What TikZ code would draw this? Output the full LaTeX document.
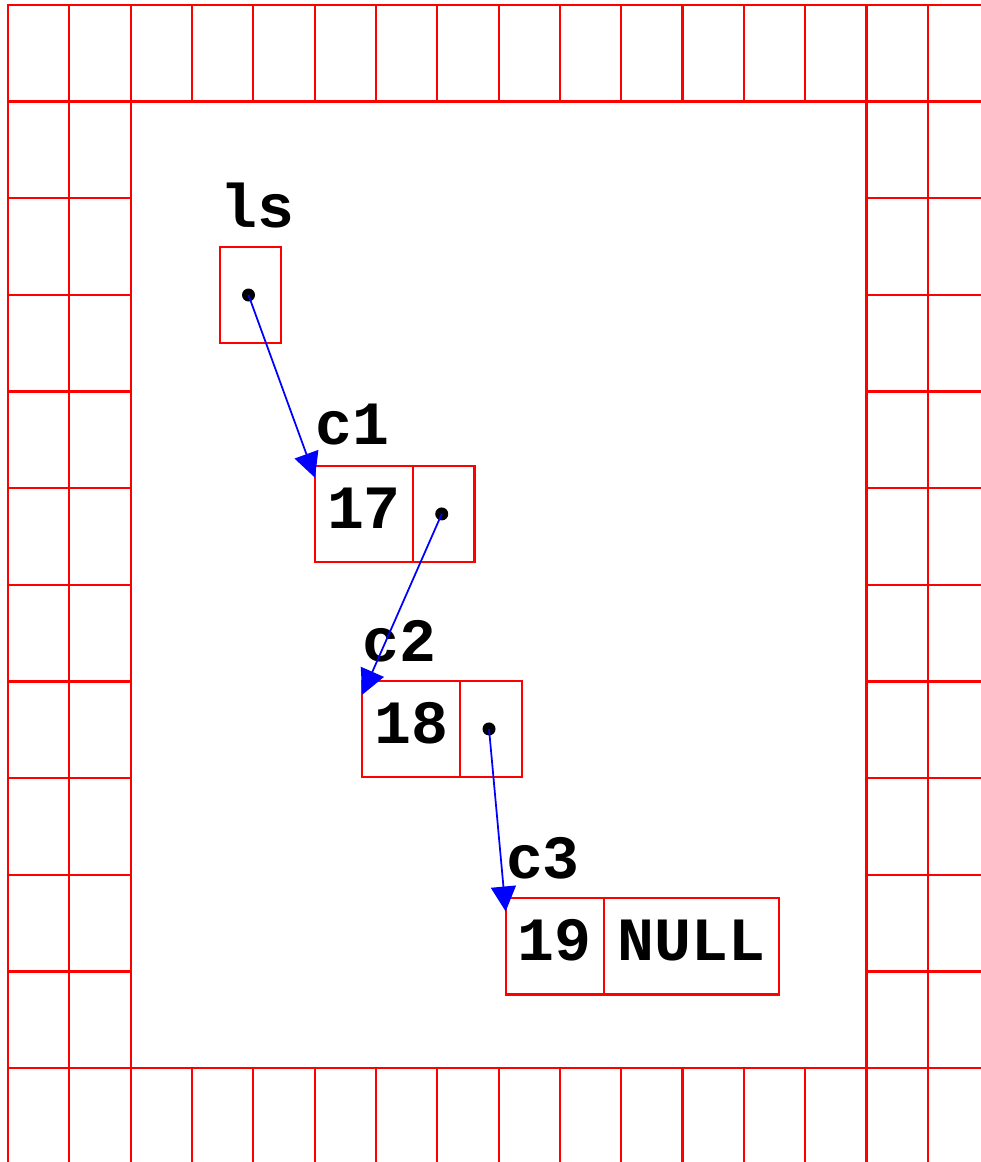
\documentclass[tikz,border=0pt]{standalone}
\usepackage{fontspec}
\setmonofont{Liberation Mono}
\usetikzlibrary{positioning, arrows.meta}

\begin{document}
\begin{tikzpicture}[
    x=0.02cm, y=-0.02cm,
    wall/.style={draw=red, line width=1.3pt, line cap=rect},
    cell/.style={rectangle, draw=red, line width=1.2pt, fill=none, outer sep=0pt, inner sep=0pt,
        minimum height=1.93cm, text centered, text height=0.875cm, text depth=0.285cm, text=black,
        font=\fontsize{35}{40}\selectfont\ttfamily\bfseries},
    value/.style={cell, minimum width=1.96cm},
    pointer/.style={cell, minimum width=1.23cm},
    varname/.style={rectangle, draw=none, fill=none, anchor=base west, inner sep=0pt, text=black,
        font=\fontsize{35}{40}\selectfont\ttfamily\bfseries},
    link/.style={draw=blue, line width=1pt, -{Triangle[length=0.5cm, width=0.5cm]}},
    node distance=0pt
]
\useasboundingbox (0,0) rectangle (980,1162);

% memory grid round the frame
\foreach \j in {0,1,11}
    \draw[wall] (8,{5+96.64*\j}) -- (980,{5+96.64*\j});
\foreach \j in {2,...,10} {
    \draw[wall] (8,{5+96.64*\j}) -- (130.7,{5+96.64*\j});
    \draw[wall] (866.6,{5+96.64*\j}) -- (980,{5+96.64*\j});
}
\foreach \i in {0,1,2,14,15}
    \draw[wall] ({8+61.33*\i},5) -- ({8+61.33*\i},1162);
\foreach \i in {3,...,13} {
    \draw[wall] ({8+61.33*\i},5) -- ({8+61.33*\i},101.6);
    \draw[wall] ({8+61.33*\i},1068) -- ({8+61.33*\i},1162);
}

% list cells
\node (Var00) [pointer, minimum width=1.22cm, minimum height=1.92cm] at (250.5,295) {};
\node (Val01) [value, anchor=north west] at (315,465.7) {17};
\node (Ptr01) [pointer, right=of Val01] {};
\node (Val02) [value, anchor=north west] at (362.3,680.7) {18};
\node (Ptr02) [pointer, right=of Val02] {};
\node (Val03) [value, anchor=north west] at (505.7,898) {19};
\node (Ptr03) [pointer, right=of Val03, minimum width=3.5cm] {NULL};

\node (Lab00) [varname] at ([yshift=0.4cm]Var00.north west) {ls};
\node (Lab01) [varname] at ([yshift=0.42cm]Val01.north west) {c1};
\node (Lab02) [varname] at ([yshift=0.38cm]Val02.north west) {c2};
\node (Lab03) [varname] at ([yshift=0.4cm]Val03.north west) {c3};

\foreach \p in {Var00, Ptr01, Ptr02}
    \fill[black] ([xshift=-0.04cm]\p.center) circle (0.13cm);

\draw[link] ([xshift=-0.04cm]Var00.center) -- ([yshift=-0.24cm]Val01.north west);
\draw[link] ([xshift=-0.04cm]Ptr01.center) -- ([yshift=-0.28cm]Val02.north west);
\draw[link] ([xshift=-0.04cm]Ptr02.center) -- ([yshift=-0.27cm]Val03.north west);
\end{tikzpicture}
\end{document}
